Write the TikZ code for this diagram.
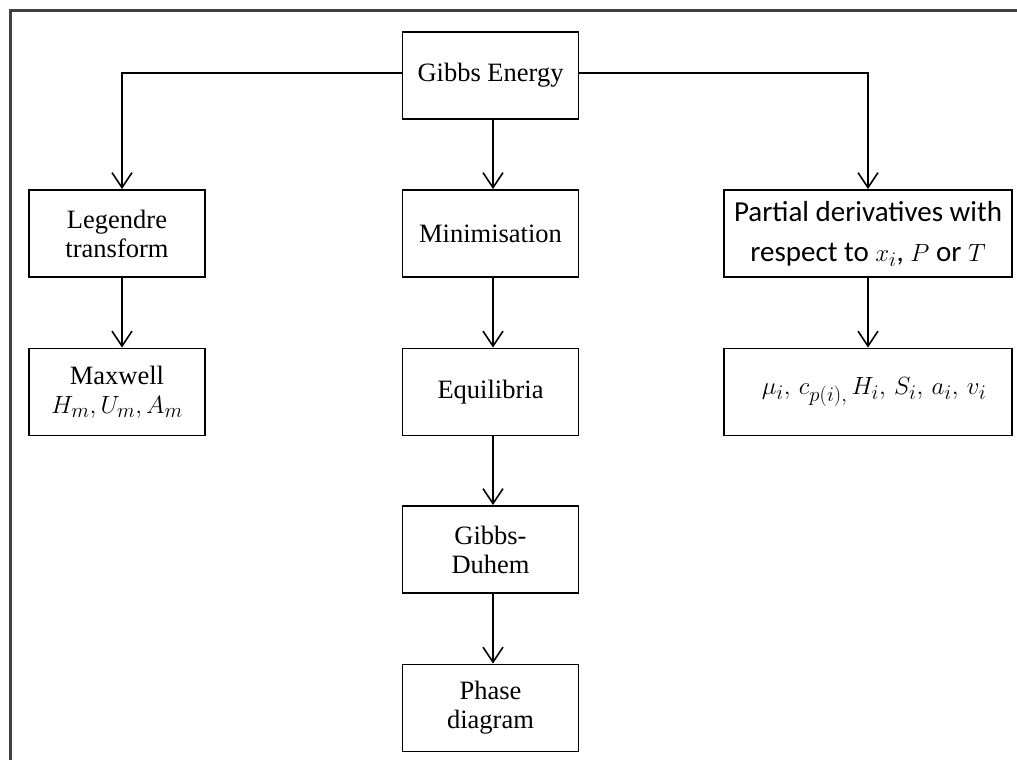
\documentclass[tikz,border=0pt]{standalone}
\usepackage{fontspec}
\setmainfont{Liberation Serif}
\newfontfamily\calfont{Carlito}
\usetikzlibrary{arrows.meta}
\tikzset{
  box/.style={draw=black, line width=1.8pt, inner sep=0pt, align=center,
    font=\fontsize{26.5}{29}\selectfont},
  smallbox/.style={box, minimum width=176pt, minimum height=87pt},
  widebox/.style={box, minimum width=288pt, minimum height=87pt},
  arr/.style={line width=1.6pt, -{Straight Barb[length=15pt,width=20pt,line width=1.6pt]}},
  frame/.style={line width=3pt, draw=black!75}
}
\begin{document}
\begin{tikzpicture}[x=1pt,y=-1pt]
\useasboundingbox (0,0) rectangle (1017,760);
\draw[frame] (10,762) -- (10,11) -- (1019,11);
\node[smallbox] (gibbs) at (490.5,75.5) {Gibbs Energy};
\node[smallbox] (leg) at (117,233.5) {Legendre\\transform};
\node[smallbox] (max) at (117,392) {Maxwell\\{\fontsize{28}{29}\selectfont$H_m, U_m, A_m$}};
\node[smallbox] (min) at (490.5,233.5) {Minimisation};
\node[smallbox] (equ) at (490.5,392) {Equilibria};
\node[smallbox] (gd) at (490.5,549.5) {Gibbs-\\Duhem};
\node[smallbox] (ph) at (490.5,708) {Phase\\diagram};
\node[widebox, font=\calfont\fontsize{29}{40}\selectfont] (par) at (868,233.5) {Partial derivatives with\\respect to $x_i$, $P$ or $T$};
\node[widebox, font=\fontsize{32}{34}\selectfont] (mu) at (868,392) {\hspace*{12pt}$\mu_i,\,c_{p(i),}\,H_i,\,S_i,\,a_i,\,v_i$};
\draw[arr] ([yshift=2.5pt]gibbs.west) -| ([xshift=5pt]leg.north);
\draw[arr] ([yshift=2.5pt]gibbs.east) -| (par.north);
\draw[arr] ([xshift=2.5pt]gibbs.south) -- ([xshift=2.5pt]min.north);
\draw[arr] ([xshift=5pt]leg.south) -- ([xshift=5pt]max.north);
\draw[arr] ([xshift=2.5pt]min.south) -- ([xshift=2.5pt]equ.north);
\draw[arr] ([xshift=2.5pt]equ.south) -- ([xshift=2.5pt]gd.north);
\draw[arr] ([xshift=2.5pt]gd.south) -- ([xshift=2.5pt]ph.north);
\draw[arr] (par.south) -- (mu.north);
\end{tikzpicture}
\end{document}
